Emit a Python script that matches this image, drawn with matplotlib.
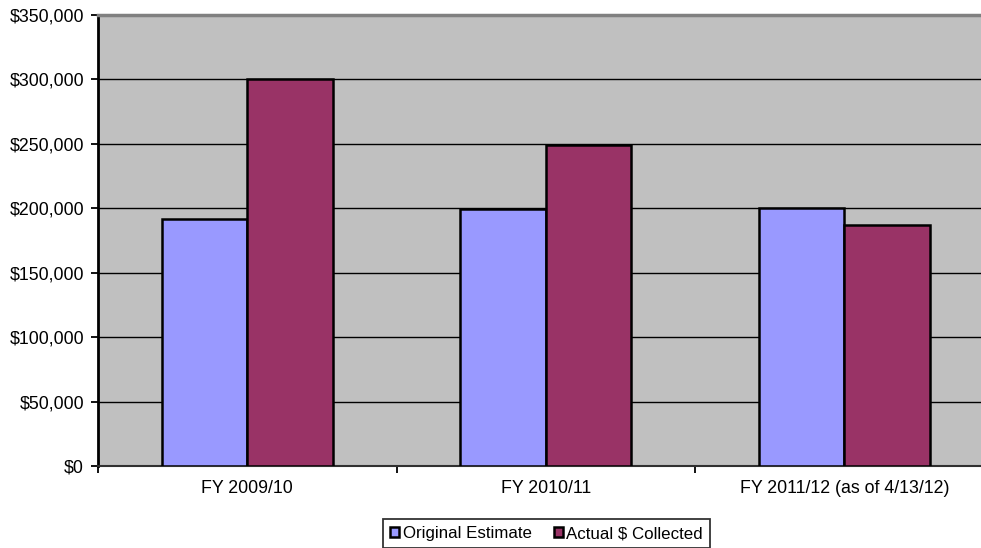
import matplotlib as mpl
mpl.use('Agg')
import matplotlib.pyplot as plt
from matplotlib.ticker import FuncFormatter
import numpy as np

categories = ["FY 2009/10", "FY 2010/11", "FY 2011/12 (as of 4/13/12)"]
original_estimate = [192000, 199500, 200000]
actual_collected = [300000, 249500, 187000]
series_names = ["Original Estimate", "Actual $ Collected"]

plt.rcParams['font.family'] = ['Liberation Sans', 'DejaVu Sans']

W, H = 981, 548
fig = plt.figure(figsize=(W / 100, H / 100), dpi=100)

# plot area in pixels (runs past the right edge like the original)
left, right, top, bottom = 98, 993.5, 15, 466
ax = fig.add_axes([left / W, 1 - bottom / H, (right - left) / W, (bottom - top) / H])
ax.set_facecolor('#C0C0C0')

x = np.arange(len(categories))
bw = 1 / 3.5
ax.bar(x - bw / 2, original_estimate, bw, color='#9999FF', edgecolor='black',
       linewidth=1.8, label=series_names[0], zorder=3)
ax.bar(x + bw / 2, actual_collected, bw, color='#993366', edgecolor='black',
       linewidth=1.8, label=series_names[1], zorder=3)

ax.set_xlim(-0.5, len(categories) - 0.5)
ax.set_ylim(0, 350000)
ax.set_yticks(np.arange(0, 350001, 50000))
ax.yaxis.set_major_formatter(FuncFormatter(lambda v, p: "${:,.0f}".format(v)))
ax.grid(axis='y', color='black', linewidth=1.0)
ax.set_axisbelow(True)

ax.set_xticks(x)
ax.set_xticklabels(categories)
ax.set_xticks(np.arange(-0.5, len(categories), 1), minor=True)
ax.tick_params(axis='x', which='major', length=0, pad=10, labelsize=12.8)
ax.tick_params(axis='x', which='minor', length=5, width=1.3, color='black')
ax.tick_params(axis='y', length=5, width=1.3, pad=5, labelsize=12.8)

for s in ['right']:
    ax.spines[s].set_visible(False)
ax.spines['top'].set_color('#808080')
ax.spines['top'].set_linewidth(2.5)
ax.spines['left'].set_linewidth(2)
ax.spines['bottom'].set_linewidth(1.5)
ax.spines['bottom'].set_color('#303030')

leg = fig.legend(loc='center', bbox_to_anchor=(546.5 / W, 1 - 533.5 / H), ncol=2,
                 fontsize=12.2, frameon=True, fancybox=False, edgecolor='black',
                 handlelength=0.55, handleheight=0.55, handletextpad=0.2,
                 columnspacing=1.3, borderpad=0.4)
leg.get_frame().set_linewidth(1.3)

fig.savefig('out.png', dpi=100)
